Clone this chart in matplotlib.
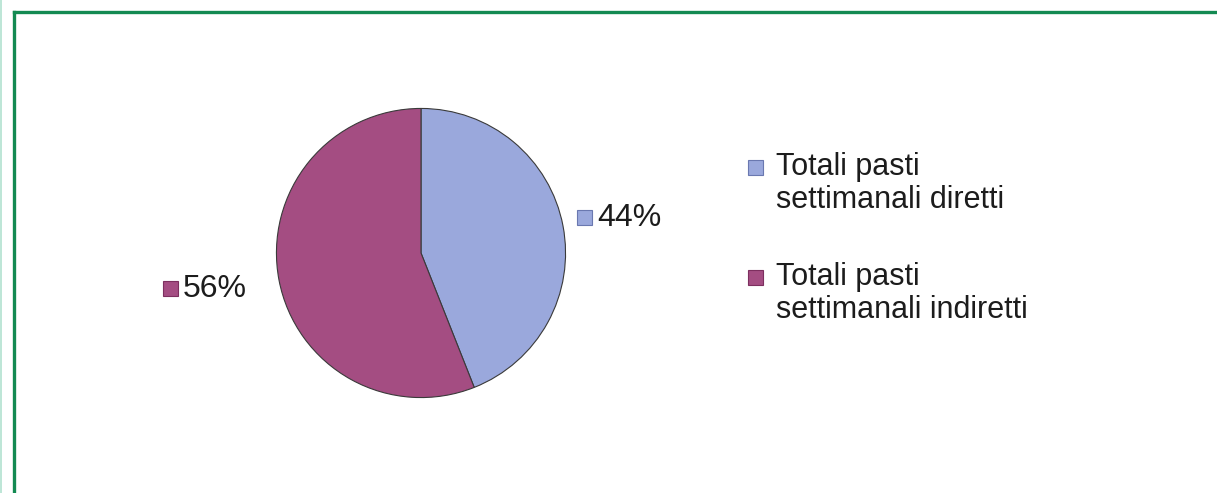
import matplotlib.pyplot as plt
from matplotlib.patches import Rectangle
from matplotlib.lines import Line2D

plt.rcParams['font.family'] = ['Liberation Sans', 'DejaVu Sans']

categories = ["Totali pasti\nsettimanali diretti", "Totali pasti\nsettimanali indiretti"]
shares = [44, 56]
colors = ['#9aa8dc', '#a44d82']
edge_colors = ['#6a78b0', '#7d2f5f']

W, H = 1217, 493
fig = plt.figure(figsize=(W / 100, H / 100), dpi=100)

# outer frame: only the top and left edges are inside the picture
fig.add_artist(Line2D([14.5 / W, 14.5 / W], [0, 1 - 11.5 / H], color='#138a52', lw=2.4))
fig.add_artist(Line2D([14.5 / W, 1], [1 - 11.5 / H, 1 - 11.5 / H], color='#138a52', lw=2.4))
fig.add_artist(Line2D([0.6 / W, 0.6 / W], [0, 1], color='#b2e2cf', lw=1.2))

# pie
cx, cy, r = 421, 253, 146
ax = fig.add_axes([(cx - r) / W, (H - cy - r) / H, 2 * r / W, 2 * r / H])
wedges, _ = ax.pie(shares, colors=colors, startangle=90, counterclock=False,
                   wedgeprops=dict(edgecolor='#3a3a3a', linewidth=0.8))
ax.set_xlim(-1.01, 1.01)
ax.set_ylim(-1.01, 1.01)
ax.set_aspect('equal')
ax.axis('off')

def square(x, y_bottom, face, edge, size=15):
    fig.add_artist(Rectangle((x / W, (H - y_bottom) / H), size / W, size / H,
                             facecolor=face, edgecolor=edge, lw=0.8,
                             transform=fig.transFigure))

# value labels (x of square, baseline y)
label_pos = [(577, 226), (163, 297)]
for (x, y), v, c, e in zip(label_pos, shares, colors, edge_colors):
    square(x, y - 1, c, e)
    fig.text((x + 20) / W, 1 - y / H, f"{v}%", fontsize=23, color='#1c1c1c',
             va='baseline', ha='left')

# legend (x of square, baseline of first line)
legend_pos = [(748, 175), (748, 285)]
for (x, y), name, c, e in zip(legend_pos, categories, colors, edge_colors):
    square(x, y, c, e)
    lines = name.split("\n")
    for i, line in enumerate(lines):
        fig.text((x + 28) / W, 1 - (y + 33 * i) / H, line, fontsize=22,
                 color='#1c1c1c', va='baseline', ha='left')

fig.savefig('out.png', dpi=100)
